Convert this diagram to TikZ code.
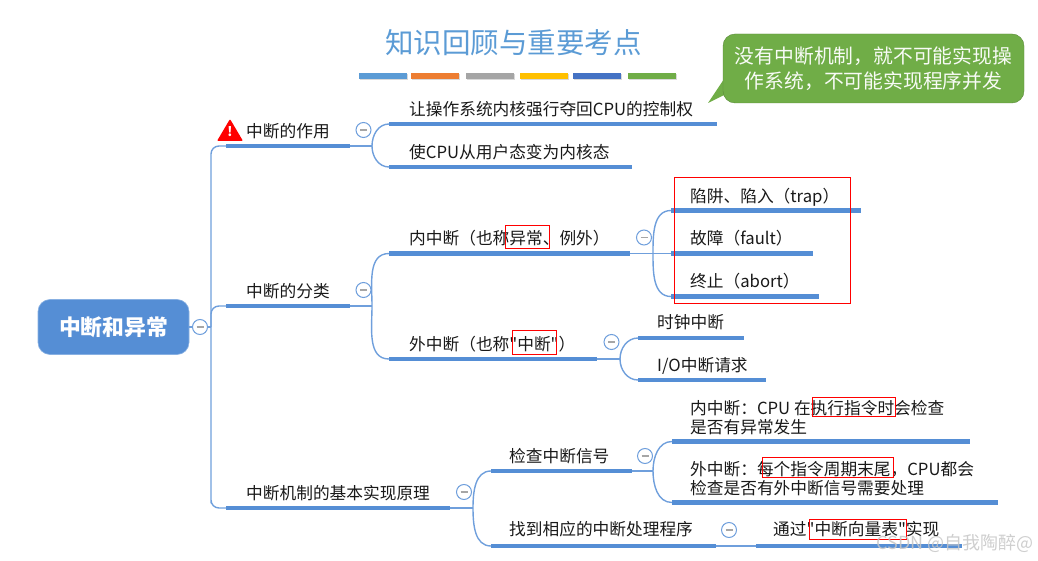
\documentclass[tikz,border=0pt]{standalone}
\usepackage{fontspec}
\setmainfont{Noto Sans CJK SC}[Ligatures=TeXOff]
\usetikzlibrary{shadows}
\definecolor{rootblue}{HTML}{558ED5}
\definecolor{lineblue}{HTML}{6F9FDC}
\definecolor{titleblue}{HTML}{5B9BD5}
\definecolor{stripeorange}{HTML}{ED7D31}
\definecolor{stripegray}{HTML}{A5A5A5}
\definecolor{stripeyellow}{HTML}{FFC000}
\definecolor{stripeblue}{HTML}{4472C4}
\definecolor{calloutgreen}{HTML}{70AD47}
\tikzset{
  bar/.style={fill=rootblue, inner sep=0pt, minimum height=4.4pt, anchor=west},
  branch/.style={draw=lineblue, line width=1.4pt},
  topic/.style={anchor=base west, inner sep=0pt, yshift=-1.5pt, text=black!90, font=\fontsize{16.7}{19}\selectfont, align=left},
  fold/.style={circle, draw=lineblue, line width=1pt, fill=white, minimum size=15pt, inner sep=0pt,
    path picture={\draw[gray!70, line width=1.2pt] ([xshift=-3.5pt]path picture bounding box.center) -- ([xshift=3.5pt]path picture bounding box.center);}},
  redbox/.style={draw=red, line width=1pt},
  stripe/.style={inner sep=0pt, minimum height=6pt, minimum width=48pt, anchor=west, drop shadow={opacity=0.3, shadow xshift=0.5pt, shadow yshift=-1pt}},
}
\begin{document}
\begin{tikzpicture}[x=1pt, y=-1pt]
  \useasboundingbox (0,0) rectangle (1038,561);

  % title and colour stripes
  \node[text=titleblue, font=\fontsize{28.5}{30}\selectfont, inner sep=0pt] (title) at (513.5,43) {知识回顾与重要考点};
  \node[stripe, fill=titleblue] (stripeA) at (359,76) {};
  \node[stripe, fill=stripeorange] (stripeB) at (411,76) {};
  \node[stripe, fill=stripegray] (stripeC) at (466,76) {};
  \node[stripe, fill=stripeyellow] (stripeD) at (520,76) {};
  \node[stripe, fill=stripeblue] (stripeE) at (573,76) {};
  \node[stripe, fill=calloutgreen] (stripeF) at (628,76) {};

  % callout
  \coordinate (tailtip) at (708,103);
  \coordinate (tailup) at (730,70);
  \coordinate (taildown) at (730,92);
  \fill[calloutgreen] (tailup) -- (tailtip) -- (taildown) -- cycle;
  \node[fill=calloutgreen, draw=calloutgreen!80!black, line width=0.4pt, rounded corners=12pt, minimum width=301pt, minimum height=69pt,
    text=white!95!calloutgreen, font=\fontsize{19.8}{25}\selectfont, align=center, inner sep=0pt] (callout) at (873.5,68.5)
    {没有中断机制，就不可能实现操\\作系统，不可能实现程序并发};

  % root
  \node[fill=rootblue, draw=rootblue!70!white, line width=0.6pt, rounded corners=12pt, minimum width=151pt, minimum height=55pt,
    text=white, font=\fontsize{21.8}{24}\selectfont\bfseries, inner sep=0pt] (root) at (113.5,327) {中断和异常};

  % first level
  \node[bar, minimum width=124pt] (role) at (226,146) {};
  \node[bar, minimum width=124pt] (kinds) at (226,306) {};
  \node[bar, minimum width=224pt] (basic) at (226,508) {};
  \node[topic] (roletext) at (246,136) {中断的作用};
  \node[topic] (kindstext) at (246,296) {中断的分类};
  \node[topic] (basictext) at (246,498) {中断机制的基本实现原理};

  % warning sign
  \fill[red, rounded corners=1pt] (217,141) -- (230,119) -- (243,141) -- cycle;
  \node[text=white, font=\fontsize{13}{13}\selectfont\bfseries, inner sep=0pt] (warn) at (230,132) {!};

  % role of interrupts
  \node[bar, minimum width=328pt] (seize) at (389,124) {};
  \node[bar, minimum width=243pt] (usermode) at (389,167) {};
  \node[topic] (seizetext) at (409,114) {让操作系统内核强行夺回CPU的控制权};
  \node[topic] (usermodetext) at (409,157) {使CPU从用户态变为内核态};

  % kinds of interrupts
  \node[bar, minimum width=241pt] (inner) at (389,253.5) {};
  \node[bar, minimum width=208pt] (outer) at (389,359) {};
  \node[topic] (innertext) at (409,243) {内中断（也称异常、例外）};
  \node[topic] (outertext) at (409,349) {外中断（也称"中断"）};
  \node[bar, minimum width=190pt] (trap) at (671,210.5) {};
  \node[bar, minimum width=142pt] (fault) at (671,253.5) {};
  \node[bar, minimum width=148pt] (abort) at (671,296.5) {};
  \node[topic] (traptext) at (690,201) {陷阱、陷入（trap）};
  \node[topic] (faulttext) at (690,243) {故障（fault）};
  \node[topic] (aborttext) at (690,286) {终止（abort）};
  \node[bar, minimum width=106pt] (clock) at (638,338) {};
  \node[bar, minimum width=128pt] (iorequest) at (638,380) {};
  \node[topic] (clocktext) at (657,327) {时钟中断};
  \node[topic] (iorequesttext) at (657,370) {I/O中断请求};

  % basic mechanism
  \node[bar, minimum width=141pt] (check) at (491,471) {};
  \node[bar, minimum width=225pt] (findit) at (491,546) {};
  \node[topic] (checktext) at (509,461) {检查中断信号};
  \node[topic] (findittext) at (509,534) {找到相应的中断处理程序};
  \node[bar, minimum width=298pt] (innercheck) at (672,441.5) {};
  \node[bar, minimum width=326pt] (outercheck) at (672,502.5) {};
  \node[topic] (innerchecktext) at (690,432) {内中断：CPU 在执行指令时会检查\\是否有异常发生};
  \node[topic] (outerchecktext) at (690,493) {外中断：每个指令周期末尾，CPU都会\\检查是否有外中断信号需要处理};
  \node[bar, minimum width=206pt] (vector) at (756,546) {};
  \node[topic] (vectortext) at (773,534) {通过"中断向量表"实现};

  % hubs
  \coordinate (trunk) at (211,327);
  \coordinate (hubrole) at (372,146);
  \coordinate (hubkinds) at (372,306);
  \coordinate (hubbasic) at (473,508);
  \coordinate (hubinner) at (653,253.5);
  \coordinate (hubouter) at (620,359);
  \coordinate (hubcheck) at (653,471);

  % connectors
  \draw[branch] (root.east) -- (trunk);
  \draw[branch, rounded corners=8pt] (role.west) -| (basic.west -| trunk) |- (basic.west);
  \draw[branch, rounded corners=8pt] (kinds.west) -| (trunk);

  \draw[branch] (role.east) -- (hubrole);
  \draw[branch] (hubrole) to[out=90, in=180] (seize.west);
  \draw[branch] (hubrole) to[out=-90, in=180] (usermode.west);

  \draw[branch] (kinds.east) -- (hubkinds);
  \draw[branch] (hubkinds) to[out=90, in=180] (inner.west);
  \draw[branch] (hubkinds) to[out=-90, in=180] (outer.west);

  \draw[branch] (inner.east) -- (fault.west);
  \draw[branch] (hubinner) to[out=90, in=180] (trap.west);
  \draw[branch] (hubinner) to[out=-90, in=180] (abort.west);

  \draw[branch] (outer.east) -- (hubouter);
  \draw[branch] (hubouter) to[out=90, in=180] (clock.west);
  \draw[branch] (hubouter) to[out=-90, in=180] (iorequest.west);

  \draw[branch] (basic.east) -- (hubbasic);
  \draw[branch] (hubbasic) to[out=90, in=180] (check.west);
  \draw[branch] (hubbasic) to[out=-90, in=180] (findit.west);

  \draw[branch] (check.east) -- (hubcheck);
  \draw[branch] (hubcheck) to[out=90, in=180] (innercheck.west);
  \draw[branch] (hubcheck) to[out=-90, in=180] (outercheck.west);

  \draw[branch] (findit.east) -- (vector.west);

  % fold marks
  \node[fold] (foldroot) at (200,327) {};
  \node[fold] (foldrole) at (363.5,130) {};
  \node[fold] (foldkinds) at (363.5,290) {};
  \node[fold] (foldinner) at (644,237.5) {};
  \node[fold] (foldouter) at (611.5,342) {};
  \node[fold] (foldbasic) at (464,492) {};
  \node[fold] (foldcheck) at (645,456) {};
  \node[fold] (foldfind) at (729,530) {};

  % red marks
  \draw[redbox] (674,177.5) rectangle (850.5,303);
  \draw[redbox] (505,226) rectangle (549.5,249);
  \draw[redbox] (512,330) rectangle (556,354);
  \draw[redbox] (812,397) rectangle (895,416);
  \draw[redbox] (762,457) rectangle (893,477);
  \draw[redbox] (809,519) rectangle (906,539);

  % watermark
  \node[text=gray!45, opacity=0.85, font=\fontsize{18}{20}\selectfont, inner sep=0pt, anchor=base east] (mark) at (1034,549) {CSDN @自我陶醉@};
\end{tikzpicture}
\end{document}
